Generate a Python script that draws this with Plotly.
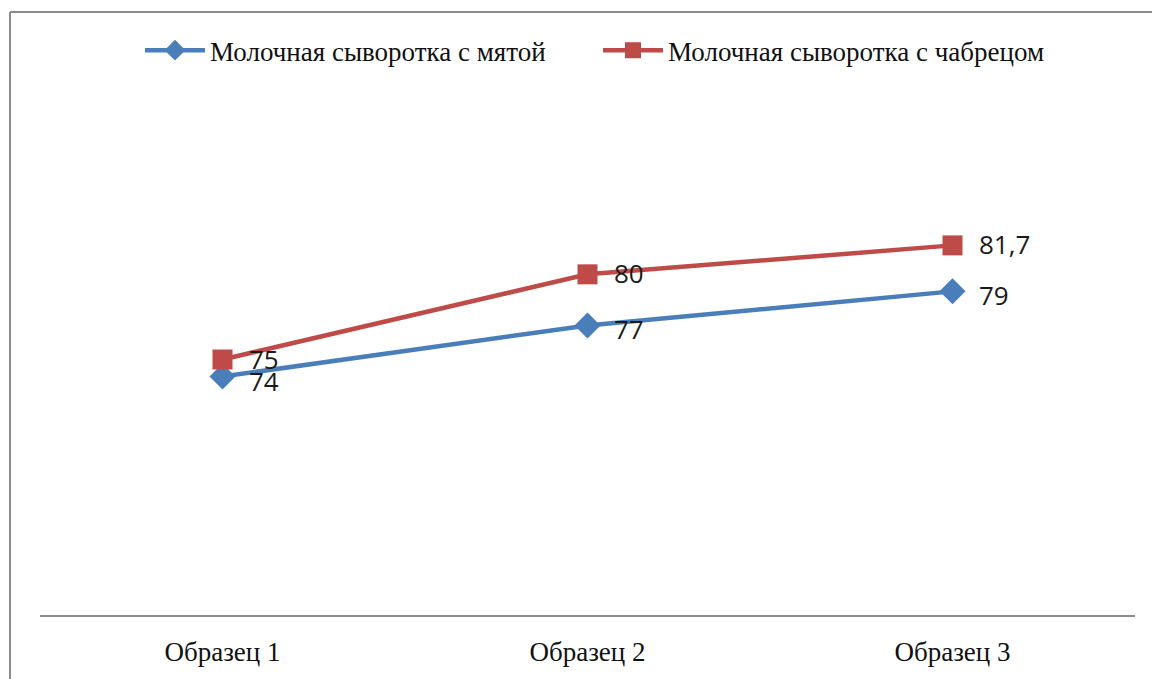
import plotly.graph_objects as go

categories = ["Образец 1", "Образец 2", "Образец 3"]
mint = [74, 77, 79]
thyme = [75, 80, 81.7]
mint_labels = ["74", "77", "79"]
thyme_labels = ["75", "80", "81,7"]
series_names = ["Молочная сыворотка с мятой", "Молочная сыворотка с чабрецом"]

BLUE = "#4A7EBB"
RED = "#BE4B48"
LABEL_FONT = dict(family="Open Sans", size=26, color="#1a1a1a")

fig = go.Figure()
fig.add_trace(go.Scatter(
    x=categories, y=mint, name=series_names[0], mode="lines+markers",
    line=dict(color=BLUE, width=4.5),
    marker=dict(symbol="diamond", size=20, color=BLUE),
))
fig.add_trace(go.Scatter(
    x=categories, y=thyme, name=series_names[1], mode="lines+markers",
    line=dict(color=RED, width=4.5),
    marker=dict(symbol="square", size=20, color=RED),
))

annotations = []
for xs, ys, labs, dy in [(categories, mint, mint_labels, -4), (categories, thyme, thyme_labels, 1)]:
    for xv, yv, lab in zip(xs, ys, labs):
        annotations.append(dict(x=xv, y=yv, text=lab, showarrow=False, xanchor="left",
                                yanchor="middle", xshift=24, yshift=dy, font=LABEL_FONT))

L, R, T, B = 40, 17, 104, 58
W, H = 1152, 679
pw, ph = W - L - R, H - T - B

def px(xp):
    return (xp - L) / pw

def py(yp):
    return (H - B - yp) / ph

fig.update_layout(
    width=W, height=H,
    margin=dict(l=L, r=R, t=T, b=B),
    paper_bgcolor="white", plot_bgcolor="white",
    showlegend=True,
    legend=dict(orientation="h", x=px(140), xanchor="left", y=py(50), yanchor="middle",
                font=dict(family="Liberation Serif", size=27, color="#111"),
                itemwidth=60, entrywidth=383, traceorder="normal"),
    xaxis=dict(range=[-0.5, 2.5], showgrid=False, zeroline=False, showline=True,
               linecolor="#8c8c8c", linewidth=2, ticks="", ticklabelstandoff=12,
               tickfont=dict(family="Liberation Serif", size=27, color="#111")),
    yaxis=dict(range=[60, 90], visible=False, showgrid=False, zeroline=False),
    annotations=annotations,
    shapes=[
        dict(type="line", xref="paper", yref="paper", x0=px(10), x1=px(1160), y0=py(11), y1=py(11),
             line=dict(color="#8c8c8c", width=2)),
        dict(type="line", xref="paper", yref="paper", x0=px(10), x1=px(10), y0=py(11), y1=py(690),
             line=dict(color="#8c8c8c", width=2)),
    ],
)

fig.write_html("out.html")
